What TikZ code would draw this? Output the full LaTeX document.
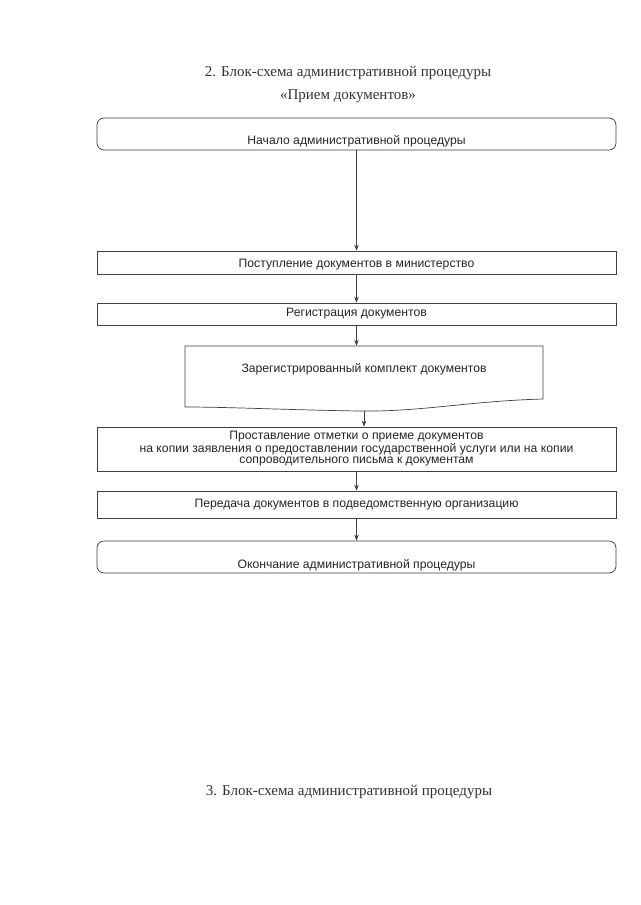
\documentclass[tikz,border=0pt]{standalone}
\usepackage{fontspec}
\setmainfont{Liberation Serif}
\setsansfont{Liberation Sans}
\usetikzlibrary{arrows.meta}
\definecolor{ink}{gray}{0.25}
\tikzset{
  boxline/.style={draw=ink, line width=0.7pt},
  plainbox/.style={boxline, rectangle, minimum width=519pt, inner sep=0pt},
  roundbox/.style={boxline, rectangle, rounded corners=7pt, minimum width=519pt, minimum height=32pt, inner sep=0pt},
  btext/.style={font=\sffamily\fontsize{12.2}{12.2}\selectfont, text=black!85, inner sep=0pt, align=center},
  ttext/.style={font=\fontsize{15}{15}\selectfont, text=black!80, inner sep=0pt},
  arr/.style={draw=ink, line width=0.7pt, -{Stealth[length=6pt,width=4.5pt]}}
}
\begin{document}
\begin{tikzpicture}[x=1pt,y=-1pt]
\useasboundingbox[fill=white] (0,0) rectangle (640,905);
% titles
\node[ttext] (t1) at (348,73) {2. Блок-схема административной процедуры};
\node[ttext] (t2) at (348,96) {«Прием документов»};
\node[ttext] (t3) at (349,792) {3. Блок-схема административной процедуры};
% boxes
\node[roundbox] (b1) at (356.5,134) {};
\node[btext] (l1) at (356.5,141) {Начало административной процедуры};
\node[plainbox, minimum height=23pt] (b2) at (356.5,262.5) {};
\node[btext] (l2) at (356.5,265) {Поступление документов в министерство};
\node[plainbox, minimum height=22pt] (b3) at (356.5,314) {};
\node[btext] (l3) at (356.5,314) {Регистрация документов};
% document shape
\node[rectangle, minimum width=358pt, minimum height=54pt, inner sep=0pt] (b4) at (364,373) {};
\draw[boxline] (185,346) -- (543,346) -- (543,399)
  .. controls (470,401) and (420,412) .. (360,411)
  .. controls (290,410) and (230,407) .. (185,407) -- cycle;
\coordinate (b4b) at (364,411);
\node[btext] (l4) at (364,369) {Зарегистрированный комплект документов};
\node[plainbox, minimum height=44pt] (b5) at (356.5,449) {};
\node[btext, font=\sffamily\fontsize{12.2}{11.3}\selectfont] (l5) at (356.5,449) {Проставление отметки о приеме документов\\на копии заявления о предоставлении государственной услуги или на копии\\сопроводительного письма к документам};
\node[plainbox, minimum height=27pt] (b6) at (356.5,504.5) {};
\node[btext] (l6) at (356.5,505) {Передача документов в подведомственную организацию};
\node[roundbox] (b7) at (356.5,557) {};
\node[btext] (l7) at (356.5,565) {Окончание административной процедуры};
% arrows
\draw[arr] (b1.south) -- (b2.north);
\draw[arr] (b2.south) -- (b3.north);
\draw[arr] (b3.south) -- (b4.north -| b3.south);
\draw[arr] (b4b) -- (b5.north -| b4b);
\draw[arr] (b5.south) -- (b6.north);
\draw[arr] (b6.south) -- (b7.north);
\end{tikzpicture}
\end{document}
